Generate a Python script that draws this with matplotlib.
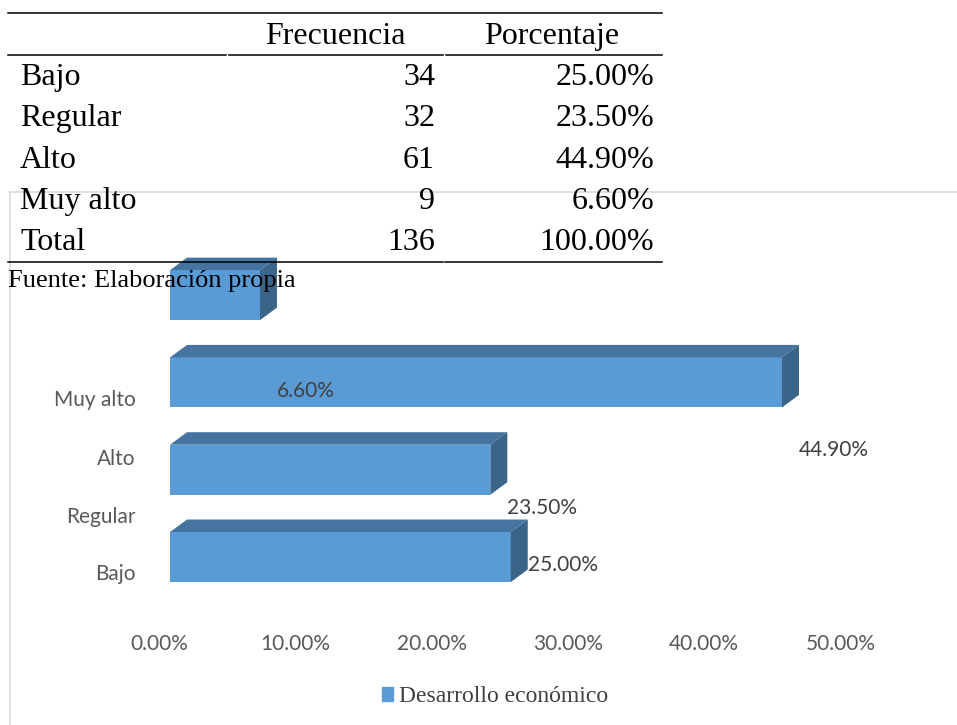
import numpy as np
import matplotlib
matplotlib.use('Agg')
import matplotlib.pyplot as plt
from matplotlib.patches import Polygon, Patch
from matplotlib.lines import Line2D
from matplotlib.transforms import ScaledTranslation

# table data
categorias = ['Bajo', 'Regular', 'Alto', 'Muy alto']
frecuencia = [34, 32, 61, 9]
porcentaje = [25.0, 23.5, 44.9, 6.6]
total_frec = 136
total_pct = 100.0

# chart data
serie = 'Desarrollo económico'
xticks = [0, 10, 20, 30, 40, 50]

W, H = 957, 725
fig = plt.figure(figsize=(W / 100, H / 100), dpi=100)

def fx(px):
    return px / W

def fy(py):
    return 1 - py / H

sans = 'Lato'
serif = 'Liberation Serif'
front, top_c, side_c = '#5b9bd5', '#4674a1', '#3b6489'

# chart area border
fig.add_artist(Line2D([fx(10), fx(957)], [fy(192), fy(192)], color='#d9d9d9', lw=1.2, zorder=0))
fig.add_artist(Line2D([fx(10), fx(10)], [fy(192), fy(725)], color='#d9d9d9', lw=1.2, zorder=0))

# bar chart (3d-like)
ax = fig.add_axes([fx(170), fy(610), (851.5 - 170) / W, 360 / H])
ax.set_xlim(0, 50)
ax.set_ylim(-0.607, 3.517)
for s in ax.spines.values():
    s.set_visible(False)

ypos = np.arange(len(categorias))
h = 0.573
dx = 17 / 13.63
dy = 12.5 / 87.3
bars = ax.barh(ypos, porcentaje, height=h, color=front, label=serie, zorder=2)
for y, v in zip(ypos, porcentaje):
    t = y + h / 2
    b = y - h / 2
    ax.add_patch(Polygon([(0, t), (v, t), (v + dx, t + dy), (dx, t + dy)],
                         closed=True, fc=top_c, ec='none', clip_on=False, zorder=2))
    ax.add_patch(Polygon([(v, b), (v, t), (v + dx, t + dy), (v + dx, b + dy)],
                         closed=True, fc=side_c, ec='none', clip_on=False, zorder=2))

# category labels sit off the bars, as in the original
label_pos = [-0.172, 0.481, 1.145, 1.821]
ax.set_yticks(label_pos, categorias)
ax.set_xticks(xticks, ['%.2f%%' % t for t in xticks])
ax.tick_params(axis='y', length=0, pad=25, labelsize=15, labelcolor='#595959')
ax.tick_params(axis='x', length=0, pad=17, labelsize=15, labelcolor='#595959')
for lab in ax.get_yticklabels() + ax.get_xticklabels():
    lab.set_fontfamily(sans)
shift = ScaledTranslation(-11 / 100, 0, fig.dpi_scale_trans)
for lab in ax.get_xticklabels():
    lab.set_transform(lab.get_transform() + shift)

for v, yl in zip(porcentaje, label_pos):
    ax.annotate('%.2f%%' % v, xy=(v, yl), xytext=(17, 7), textcoords='offset pixels',
                ha='left', va='center', fontsize=15, family=sans, color='#404040',
                annotation_clip=False, zorder=3)

fig.legend(handles=[Patch(color=front, label=serie)], loc='center',
           bbox_to_anchor=(fx(495), fy(697)), frameon=False, borderpad=0,
           handlelength=0.5, handleheight=0.5, handletextpad=0.25,
           prop={'family': serif, 'size': 17}, labelcolor='#404040')

# table over the chart
def hline(y, x0, x1):
    fig.add_artist(Line2D([fx(x0), fx(x1)], [fy(y), fy(y)], color='black', lw=1.1, zorder=5))

hline(13, 8, 662)
hline(55, 8, 226)
hline(55, 229, 443)
hline(55, 446, 662)
hline(262, 8, 443)
hline(262, 445, 662)

fs = 23
fig.text(fx(335), fy(44), 'Frecuencia', ha='center', va='baseline', family=serif, fontsize=fs, zorder=6)
fig.text(fx(552), fy(44), 'Porcentaje', ha='center', va='baseline', family=serif, fontsize=fs, zorder=6)
rows = list(zip(categorias, frecuencia, porcentaje)) + [('Total', total_frec, total_pct)]
for i, (c, f, p) in enumerate(rows):
    yb = fy(85 + i * 41.3)
    fig.text(fx(20), yb, c, ha='left', va='baseline', family=serif, fontsize=fs, zorder=6)
    fig.text(fx(435), yb, str(f), ha='right', va='baseline', family=serif, fontsize=fs, zorder=6)
    fig.text(fx(654), yb, '%.2f%%' % p, ha='right', va='baseline', family=serif, fontsize=fs, zorder=6)
fig.text(fx(8), fy(287), 'Fuente: Elaboración propia', ha='left', va='baseline',
         family=serif, fontsize=19, zorder=6)

fig.savefig('out.png', dpi=100)
